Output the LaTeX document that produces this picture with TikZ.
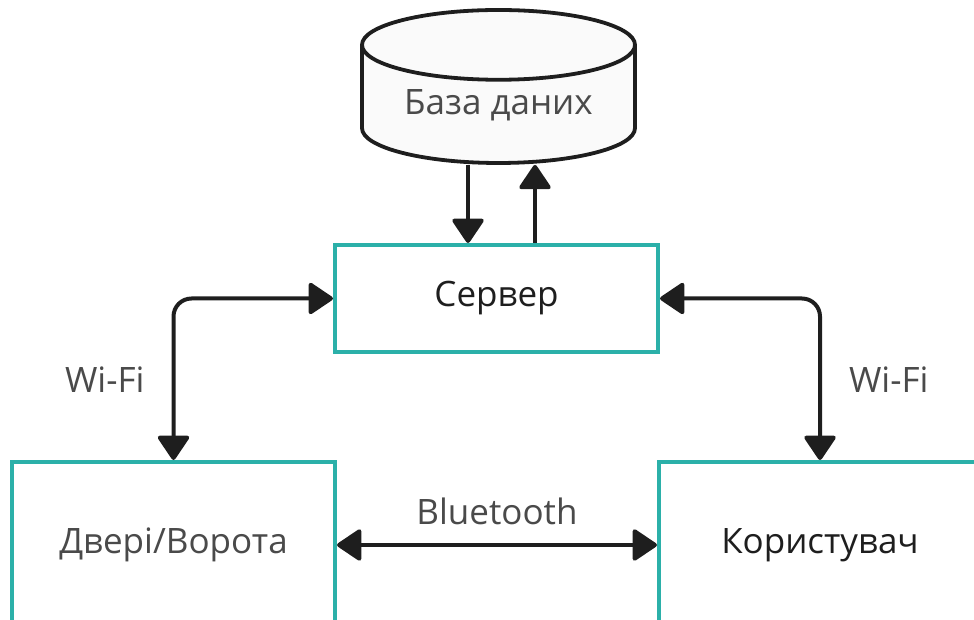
\documentclass[tikz,border=0pt]{standalone}
\usepackage{fontspec}
\setmainfont{Open Sans}
\usetikzlibrary{arrows.meta,shapes.geometric}
\definecolor{boxteal}{HTML}{2BB0A9}
\definecolor{labelgray}{HTML}{4A4A4A}
\definecolor{inkblack}{HTML}{1E1E1E}
\definecolor{dbfill}{HTML}{FAFAFA}
\newcommand{\diagfont}{\fontsize{35}{42}\selectfont}
\tikzset{
  unit/.style = {draw=boxteal, line width=4pt, fill=white, inner sep=0pt, font=\diagfont},
  store/.style = {draw=inkblack, line width=3.8pt, fill=dbfill, shape=cylinder, shape border rotate=90,
    aspect=0.37, minimum width=273pt, minimum height=153pt, inner sep=0pt, font=\diagfont, text=labelgray},
  link/.style = {draw=inkblack, line width=4pt, -{Triangle[length=26pt,width=34pt,round]}},
  bilink/.style = {link, {Triangle[length=26pt,width=34pt,round]}-{Triangle[length=26pt,width=34pt,round]}, rounded corners=18pt},
  tag/.style = {font=\diagfont, text=labelgray, inner sep=0pt}
}
\begin{document}
\begin{tikzpicture}[x=1pt, y=1pt]
\useasboundingbox (0,0) rectangle (974,620);
\clip (0,0) rectangle (974,620);
\node[store, anchor=shape center] (db) at (498.5,533.5) {База даних};
\node[unit, minimum width=323pt, minimum height=107pt, text=inkblack] (server) at (496.5,321.5) {\raisebox{-3pt}{Сервер}};
\node[unit, minimum width=323pt, minimum height=166pt, text=labelgray] (doors) at (173.5,75) {Двері/Ворота};
\node[unit, minimum width=322pt, minimum height=166pt, text=inkblack] (user) at (820,75) {Користувач};
% database links
\draw[link] ([xshift=-30.5pt]db.south) -- ([xshift=-30.5pt]db.south |- server.north);
\draw[link] ([xshift=36.5pt]db.south |- server.north) -- ([xshift=36.5pt]db.south);
% wireless links
\draw[bilink] (server.west) -| node[tag, pos=0.75, left=27pt] (wifiL) {Wi-Fi} (doors.north);
\draw[bilink] (server.east) -| node[tag, pos=0.75, right=27pt] (wifiR) {Wi-Fi} (user.north);
\draw[bilink] (doors.east) -- node[tag, above=18pt] (bt) {Bluetooth} (user.west);
\end{tikzpicture}
\end{document}
